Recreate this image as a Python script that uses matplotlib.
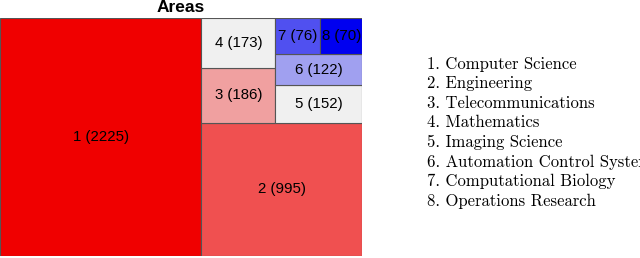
import matplotlib
matplotlib.use('Agg')
import matplotlib.pyplot as plt
from matplotlib.patches import Rectangle

# data
ids = [1, 2, 3, 4, 5, 6, 7, 8]
counts = [2225, 995, 186, 173, 152, 122, 76, 70]
names = ['Computer Science', 'Engineering', 'Telecommunications', 'Mathematics',
         'Imaging Science', 'Automation Control Systems', 'Computational Biology',
         'Operations Research']
colors = ['#f00000', '#f05050', '#f0a0a0', '#f0f0f0', '#f0f0f0',
          '#a0a0f0', '#5050f0', '#0000f0']


def worst(row, side):
    s = sum(row)
    return max(max(side * side * r / (s * s), s * s / (side * side * r)) for r in row)


def squarify(vals, x, y, w, h):
    # squarified treemap in unit square, y going up
    rects = []
    vals = list(vals)
    while vals:
        if len(vals) == 1:
            rects.append((x, y, w, h))
            break
        side = min(w, h)
        n = 1
        while n < len(vals) and worst(vals[:n + 1], side) <= worst(vals[:n], side):
            n += 1
        row = vals[:n]
        s = sum(row)
        if w >= h:
            cw = s / h
            yy = y
            for r in row:
                rh = r / cw
                rects.append((x, yy, cw, rh))
                yy += rh
            x += cw
            w -= cw
        else:
            rh = s / w
            xx = x
            for r in row:
                rw = r / rh
                rects.append((xx, y, rw, rh))
                xx += rw
            y += rh
            h -= rh
        vals = vals[n:]
    return rects


total = float(sum(counts))
areas = [c / total for c in counts]
rects = squarify(areas, 0.0, 0.0, 1.0, 1.0)

fig = plt.figure(figsize=(6.4, 2.58), dpi=100)
ax = fig.add_axes([0.0, 0.008, 0.5656, 0.922])
for (x, y, w, h), c, i, n in zip(rects, colors, ids, counts):
    ax.add_patch(Rectangle((x, y), w, h, facecolor=c, edgecolor='#555555', linewidth=0.8))
    ax.text(x + w / 2, y + h / 2, f'{i} ({n})', ha='center', va='center',
            fontsize=10.8, family='Liberation Sans')
ax.set_xlim(0, 1)
ax.set_ylim(0, 1)
ax.axis('off')
ax.text(0.5, 1.0 + 11 / 238, 'Areas', ha='center', va='center', transform=ax.transAxes,
        fontsize=12.5, fontweight='bold', family='Liberation Sans')

y0 = 1 - 64 / 258
step = 19.6 / 258
for k, (i, name) in enumerate(zip(ids, names)):
    fig.text(427 / 640, y0 - k * step, f'{i}. {name}', ha='left', va='center',
             fontsize=12, family='cmr10')

fig.savefig('out.png', dpi=100)
